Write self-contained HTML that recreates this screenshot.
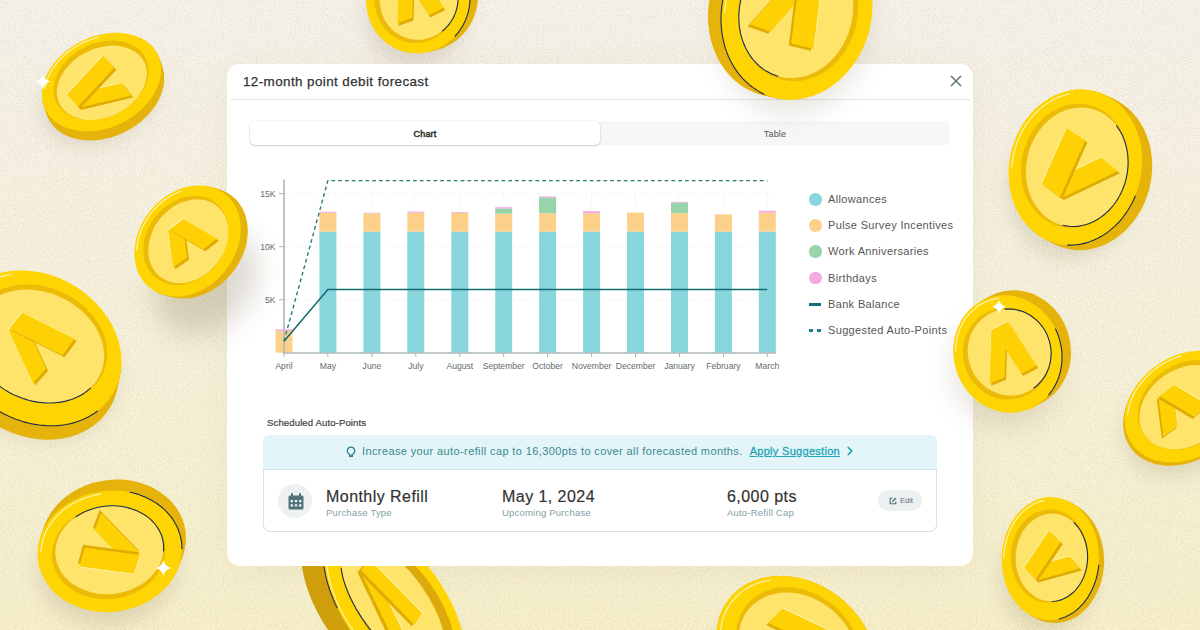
<!DOCTYPE html>
<html><head><meta charset="utf-8">
<style>
*{box-sizing:border-box;margin:0;padding:0}
html,body{width:1200px;height:630px;overflow:hidden}
body{position:relative;font-family:"Liberation Sans",sans-serif;background:#f4efe0}
.layer{position:absolute;left:0;top:0}
.modal{position:absolute;left:227px;top:64px;width:746px;height:502px;background:#fff;border-radius:13px}
.title{position:absolute;left:16px;top:10px;font-size:13.4px;color:#333;letter-spacing:0.42px;-webkit-text-stroke:0.25px #333}
.hdiv{position:absolute;left:3px;right:3px;top:35px;height:1px;background:#e2e4e5}
.close{position:absolute;left:723px;top:11px}
.tabs{position:absolute;left:23px;top:57px;width:700px;height:24px;background:#f6f7f7;border-radius:5px}
.tab1{position:absolute;left:0;top:0;width:350px;height:24px;background:#fff;border-radius:5px;box-shadow:0 1px 2px rgba(0,0,0,.18),0 0 0 0.5px rgba(0,0,0,.06);font-size:9px;color:#333;-webkit-text-stroke:0.5px #333;letter-spacing:0.2px;text-align:center;line-height:26px}
.tab2{position:absolute;left:350px;top:0;width:350px;height:24px;font-size:9px;color:#555;text-align:center;line-height:26px;letter-spacing:0.15px}
svg text.ax{font-family:"Liberation Sans",sans-serif;font-size:8.6px;fill:#646b6e}
.legend{position:absolute;left:581px;top:129px}
.li{position:absolute;left:0;width:200px;height:14px;font-size:11px;color:#555;letter-spacing:0.35px;white-space:nowrap}
.li span{position:absolute;left:20px;top:0}
.dot{position:absolute;left:1px;top:0;width:12.5px;height:12.5px;border-radius:50%}
.sched{position:absolute;left:40px;top:353px;font-size:9.6px;color:#444;letter-spacing:0.1px;-webkit-text-stroke:0.22px #444}
.banner{position:absolute;left:36px;top:371px;width:674px;height:34px;background:#e3f5f8;border-radius:6px 6px 0 0}
.btxt{position:absolute;left:99px;top:10px;font-size:11px;color:#3a8a90;white-space:nowrap;letter-spacing:0.385px}
.apply{color:#1ea5b6;text-decoration:underline;margin-left:3.5px;-webkit-text-stroke:0.3px #1ea5b6;letter-spacing:0.3px}
.card{position:absolute;left:36px;top:405px;width:674px;height:63px;border:1px solid #dde0e1;border-top:1px solid #cfe3e6;border-radius:0 0 7px 7px;background:#fff}
.ic{position:absolute;left:14px;top:14px;width:34px;height:34px;border-radius:50%;background:#eef1f2}
.big{position:absolute;font-size:16px;color:#333;white-space:nowrap;letter-spacing:0.45px;-webkit-text-stroke:0.2px #333}
.sub{position:absolute;font-size:9.5px;color:#82a1a5;white-space:nowrap;letter-spacing:0.2px}
.edit{position:absolute;left:614px;top:20px;width:44px;height:21px;border-radius:11px;background:#ebf0f1;font-size:7.5px;color:#5a7075}
</style></head><body>
<svg class="layer" width="1200" height="630" viewBox="0 0 1200 630"><defs>
<filter id="sh" x="-50%" y="-50%" width="200%" height="200%"><feGaussianBlur stdDeviation="10"/></filter>
<filter id="msh" x="-20%" y="-20%" width="140%" height="140%"><feGaussianBlur stdDeviation="18"/></filter>
<filter id="noiseD" x="0" y="0" width="100%" height="100%"><feTurbulence type="fractalNoise" baseFrequency="0.85" numOctaves="2" seed="3"/><feColorMatrix type="matrix" values="0 0 0 0 0.45  0 0 0 0 0.4  0 0 0 0 0.3  0.7 0 0 0 -0.33"/></filter>
<filter id="noiseL" x="0" y="0" width="100%" height="100%"><feTurbulence type="fractalNoise" baseFrequency="0.85" numOctaves="2" seed="3"/><feColorMatrix type="matrix" values="0 0 0 0 1  0 0 0 0 1  0 0 0 0 1  -0.7 0 0 0 0.33"/></filter>
<linearGradient id="bgg" x1="0" y1="0" x2="0" y2="1"><stop offset="0" stop-color="#f6f1e9"/><stop offset="0.45" stop-color="#f6f1dc"/><stop offset="1" stop-color="#f7f0ca"/></linearGradient>
</defs>
<rect width="1200" height="630" fill="url(#bgg)"/>
<rect width="1200" height="630" filter="url(#noiseD)"/><rect width="1200" height="630" filter="url(#noiseL)"/>
<rect x="232" y="74" width="737" height="496" rx="14" fill="#6b5a3a" opacity="0.07" filter="url(#msh)"/>
<ellipse cx="99.60" cy="98.10" rx="60.72" ry="44.13" transform="rotate(-26.3 99.60 98.10)" fill="#6b5a3a" opacity="0.16" filter="url(#sh)"/><ellipse cx="416.10" cy="15.00" rx="50.25" ry="52.87" transform="rotate(15 416.10 15.00)" fill="#6b5a3a" opacity="0.16" filter="url(#sh)"/><ellipse cx="34.10" cy="364.10" rx="86.62" ry="70.91" transform="rotate(30.8 34.10 364.10)" fill="#6b5a3a" opacity="0.16" filter="url(#sh)"/><ellipse cx="107.80" cy="567.30" rx="70.13" ry="58.78" transform="rotate(-7.1 107.80 567.30)" fill="#6b5a3a" opacity="0.16" filter="url(#sh)"/><ellipse cx="392.40" cy="621.50" rx="97.00" ry="48.98" transform="rotate(54.6 392.40 621.50)" fill="#6b5a3a" opacity="0.16" filter="url(#sh)"/><ellipse cx="794.20" cy="667.40" rx="82.55" ry="67.22" transform="rotate(37.1 794.20 667.40)" fill="#6b5a3a" opacity="0.16" filter="url(#sh)"/><ellipse cx="1073.40" cy="183.20" rx="64.02" ry="76.24" transform="rotate(13.9 1073.40 183.20)" fill="#6b5a3a" opacity="0.16" filter="url(#sh)"/><ellipse cx="1183.90" cy="422.50" rx="63.73" ry="48.98" transform="rotate(-34.5 1183.90 422.50)" fill="#6b5a3a" opacity="0.16" filter="url(#sh)"/><ellipse cx="1048.40" cy="574.60" rx="47.24" ry="59.66" transform="rotate(1.8 1048.40 574.60)" fill="#6b5a3a" opacity="0.16" filter="url(#sh)"/>
<ellipse cx="104.60" cy="91.10" rx="62.60" ry="45.50" transform="rotate(-26.3 104.60 91.10)" fill="#e5b30b" />
<ellipse cx="104.10" cy="89.60" rx="62.60" ry="45.50" transform="rotate(-26.3 104.10 89.60)" fill="#e5b30b" />
<ellipse cx="103.60" cy="88.10" rx="62.60" ry="45.50" transform="rotate(-26.3 103.60 88.10)" fill="#e5b30b" />
<ellipse cx="103.10" cy="86.60" rx="62.60" ry="45.50" transform="rotate(-26.3 103.10 86.60)" fill="#e5b30b" />
<ellipse cx="102.60" cy="85.10" rx="62.60" ry="45.50" transform="rotate(-26.3 102.60 85.10)" fill="#e5b30b" />
<ellipse cx="102.10" cy="83.60" rx="62.60" ry="45.50" transform="rotate(-26.3 102.10 83.60)" fill="#e5b30b" />
<ellipse cx="101.60" cy="82.10" rx="62.60" ry="45.50" transform="rotate(-26.3 101.60 82.10)" fill="#fed402" />
<ellipse cx="101.03" cy="80.39" rx="49.86" ry="36.95" transform="rotate(-26.3 101.03 80.39)" fill="#ebbb08" />
<ellipse cx="101.85" cy="82.86" rx="47.26" ry="34.35" transform="rotate(-26.3 101.85 82.86)" fill="#fee46a" />
<polygon transform="translate(1.6 1.6) matrix(39.840 7.040 -18.214 45.483 99.843 86.745)" points="0.831,0.075 0.493,-0.150 -0.617,0.292 -0.279,0.517" fill="#dfac06"/>
<polygon transform="translate(-1.20 -1.20) matrix(39.840 7.040 -18.214 45.483 99.843 86.745)" points="0.831,0.075 0.493,-0.150 -0.617,0.292 -0.279,0.517" fill="#fff6cf" opacity="0.75"/>
<polygon transform="translate(-0.48 -0.48) matrix(39.840 7.040 -18.214 45.483 99.843 86.745)" points="0.831,0.075 0.493,-0.150 -0.617,0.292 -0.279,0.517" fill="#fdd104"/>
<polygon transform="translate(1.6 1.6) matrix(39.840 7.040 -18.214 45.483 99.843 86.745)" points="0.176,-0.436 -0.200,-0.644 -0.681,0.279 -0.311,0.498" fill="#dfac06"/>
<polygon transform="translate(-1.20 -1.20) matrix(39.840 7.040 -18.214 45.483 99.843 86.745)" points="0.176,-0.436 -0.200,-0.644 -0.681,0.279 -0.311,0.498" fill="#fff6cf" opacity="0.75"/>
<polygon transform="translate(-0.48 -0.48) matrix(39.840 7.040 -18.214 45.483 99.843 86.745)" points="0.176,-0.436 -0.200,-0.644 -0.681,0.279 -0.311,0.498" fill="#fdd104"/>
<polyline points="45.0,88.6 45.3,86.9 45.6,85.3 46.0,83.7 46.5,82.0 47.0,80.4 47.6,78.7 48.3,77.1 49.0,75.5 49.8,73.8 50.7,72.2 51.6,70.6 52.6,69.0 53.6,67.5 54.7,65.9 55.9,64.4 57.1,62.9 58.3,61.4 59.7,59.9 61.0,58.5 62.4,57.1 63.9,55.7 65.4,54.3 67.0,53.0 68.6,51.7 70.2,50.5 71.9,49.3 73.6,48.1 75.4,47.0 77.1,46.0 79.0,44.9 80.8,43.9 82.7,43.0 84.5,42.1 86.4,41.3 88.4,40.5 90.3,39.7 92.3,39.0 94.2,38.4 96.2,37.8 98.2,37.3" fill="none" stroke="#fff7d0" stroke-width="1.1" stroke-linecap="round" opacity="0.9"/>
<path d="M43 74.0Q44.35 80.15 50.5 81.5Q44.35 82.85 43 89.0Q41.65 82.85 35.5 81.5Q41.65 80.15 43 74.0Z" fill="#fff"/><ellipse cx="426.10" cy="-3.00" rx="51.80" ry="54.50" transform="rotate(15 426.10 -3.00)" fill="#e5b30b" />
<ellipse cx="424.50" cy="-2.60" rx="51.80" ry="54.50" transform="rotate(15 424.50 -2.60)" fill="#e5b30b" />
<ellipse cx="422.90" cy="-2.20" rx="51.80" ry="54.50" transform="rotate(15 422.90 -2.20)" fill="#e5b30b" />
<ellipse cx="421.30" cy="-1.80" rx="51.80" ry="54.50" transform="rotate(15 421.30 -1.80)" fill="#e5b30b" />
<ellipse cx="419.70" cy="-1.40" rx="51.80" ry="54.50" transform="rotate(15 419.70 -1.40)" fill="#e5b30b" />
<ellipse cx="418.10" cy="-1.00" rx="51.80" ry="54.50" transform="rotate(15 418.10 -1.00)" fill="#fed402" />
<ellipse cx="416.35" cy="-0.56" rx="41.71" ry="43.75" transform="rotate(15 416.35 -0.56)" fill="#ebbb08" />
<ellipse cx="418.88" cy="-1.19" rx="39.11" ry="41.15" transform="rotate(15 418.88 -1.19)" fill="#fee46a" />
<polygon transform="translate(1 2) matrix(-17.403 35.842 -39.941 -29.368 415.023 -3.628)" points="0.831,0.075 0.493,-0.150 -0.617,0.292 -0.279,0.517" fill="#dfac06"/>
<polygon transform="translate(-0.75 -1.50) matrix(-17.403 35.842 -39.941 -29.368 415.023 -3.628)" points="0.831,0.075 0.493,-0.150 -0.617,0.292 -0.279,0.517" fill="#fff6cf" opacity="0.75"/>
<polygon transform="translate(-0.30 -0.60) matrix(-17.403 35.842 -39.941 -29.368 415.023 -3.628)" points="0.831,0.075 0.493,-0.150 -0.617,0.292 -0.279,0.517" fill="#fdd104"/>
<polygon transform="translate(1 2) matrix(-17.403 35.842 -39.941 -29.368 415.023 -3.628)" points="0.176,-0.436 -0.200,-0.644 -0.681,0.279 -0.311,0.498" fill="#dfac06"/>
<polygon transform="translate(-0.75 -1.50) matrix(-17.403 35.842 -39.941 -29.368 415.023 -3.628)" points="0.176,-0.436 -0.200,-0.644 -0.681,0.279 -0.311,0.498" fill="#fff6cf" opacity="0.75"/>
<polygon transform="translate(-0.30 -0.60) matrix(-17.403 35.842 -39.941 -29.368 415.023 -3.628)" points="0.176,-0.436 -0.200,-0.644 -0.681,0.279 -0.311,0.498" fill="#fdd104"/>
<polyline points="368.5,-1.8 368.6,-3.6 368.8,-5.4 369.0,-7.2 369.3,-9.0 369.6,-10.8 370.0,-12.6 370.5,-14.3 371.0,-16.1 371.6,-17.8 372.2,-19.5 372.9,-21.2 373.6,-22.8 374.4,-24.5 375.3,-26.1 376.2,-27.6 377.1,-29.2 378.1,-30.7 379.2,-32.1 380.3,-33.6 381.4,-35.0 382.6,-36.3 383.8,-37.6 385.1,-38.9 386.4,-40.1 387.8,-41.3 389.2,-42.4 390.6,-43.4 392.1,-44.5 393.5,-45.4 395.1,-46.3 396.6,-47.2 398.2,-48.0 399.8,-48.7 401.4,-49.4 403.1,-50.0 404.7,-50.6 406.4,-51.1 408.1,-51.5 409.8,-51.9 411.5,-52.2" fill="none" stroke="#fff7d0" stroke-width="1.1" stroke-linecap="round" opacity="0.9"/>
<polyline points="458.1,0.0 458.0,0.9 457.9,1.8 457.8,2.7 457.7,3.6 457.6,4.5 457.5,5.3 457.3,6.2 457.1,7.1 456.9,8.0 456.7,8.8 456.4,9.7 456.2,10.5 455.9,11.4 455.6,12.2 455.3,13.1 455.0,13.9 454.6,14.7 454.3,15.6 453.9,16.4 453.5,17.2 453.1,18.0 452.7,18.7 452.2,19.5 451.8,20.3 451.3,21.0 450.8,21.8 450.3,22.5 449.8,23.2 449.3,23.9 448.7,24.6 448.2,25.3 447.6,26.0 447.0,26.7 446.4,27.3 445.8,27.9 445.2,28.6 444.5,29.2 443.9,29.8 443.2,30.3 442.5,30.9" fill="none" stroke="#1f2d4a" stroke-width="1.1" stroke-linecap="round"/>
<polyline points="470.0,0.0 470.0,1.0 469.9,2.0 469.8,3.0 469.7,4.0 469.6,5.0 469.5,6.0 469.3,7.0 469.1,8.0 468.9,9.0 468.7,9.9 468.5,10.9 468.3,11.9 468.0,12.8 467.7,13.8 467.4,14.8 467.1,15.7 466.8,16.7 466.5,17.6 466.1,18.5 465.7,19.5 465.4,20.4 464.9,21.3 464.5,22.2 464.1,23.1 463.6,24.0 463.2,24.9 462.7,25.8 462.2,26.6 461.7,27.5 461.1,28.3 460.6,29.1 460.0,30.0 459.5,30.8 458.9,31.6 458.3,32.4 457.7,33.2 457.0,33.9 456.4,34.7 455.8,35.4 455.1,36.2" fill="none" stroke="#1f2d4a" stroke-width="1.1" stroke-linecap="round"/><ellipse cx="33.10" cy="362.10" rx="89.30" ry="73.10" transform="rotate(30.8 33.10 362.10)" fill="#e5b30b" />
<ellipse cx="33.43" cy="360.54" rx="89.30" ry="73.10" transform="rotate(30.8 33.43 360.54)" fill="#e5b30b" />
<ellipse cx="33.77" cy="358.99" rx="89.30" ry="73.10" transform="rotate(30.8 33.77 358.99)" fill="#e5b30b" />
<ellipse cx="34.10" cy="357.43" rx="89.30" ry="73.10" transform="rotate(30.8 34.10 357.43)" fill="#e5b30b" />
<ellipse cx="34.43" cy="355.88" rx="89.30" ry="73.10" transform="rotate(30.8 34.43 355.88)" fill="#e5b30b" />
<ellipse cx="34.77" cy="354.32" rx="89.30" ry="73.10" transform="rotate(30.8 34.77 354.32)" fill="#e5b30b" />
<ellipse cx="35.10" cy="352.77" rx="89.30" ry="73.10" transform="rotate(30.8 35.10 352.77)" fill="#e5b30b" />
<ellipse cx="35.43" cy="351.21" rx="89.30" ry="73.10" transform="rotate(30.8 35.43 351.21)" fill="#e5b30b" />
<ellipse cx="35.77" cy="349.66" rx="89.30" ry="73.10" transform="rotate(30.8 35.77 349.66)" fill="#e5b30b" />
<ellipse cx="36.10" cy="348.10" rx="89.30" ry="73.10" transform="rotate(30.8 36.10 348.10)" fill="#fed402" />
<ellipse cx="38.54" cy="343.76" rx="70.90" ry="56.70" transform="rotate(24 38.54 343.76)" fill="#ebbb08" />
<ellipse cx="38.00" cy="346.30" rx="68.30" ry="54.10" transform="rotate(24 38.00 346.30)" fill="#fee46a" />
<polygon transform="translate(1.6 1.6) matrix(-0.532 46.187 -56.998 -4.438 38.215 345.658)" points="0.831,0.075 0.493,-0.150 -0.617,0.292 -0.279,0.517" fill="#dfac06"/>
<polygon transform="translate(-1.20 -1.20) matrix(-0.532 46.187 -56.998 -4.438 38.215 345.658)" points="0.831,0.075 0.493,-0.150 -0.617,0.292 -0.279,0.517" fill="#fff6cf" opacity="0.75"/>
<polygon transform="translate(-0.48 -0.48) matrix(-0.532 46.187 -56.998 -4.438 38.215 345.658)" points="0.831,0.075 0.493,-0.150 -0.617,0.292 -0.279,0.517" fill="#fdd104"/>
<polygon transform="translate(1.6 1.6) matrix(-0.532 46.187 -56.998 -4.438 38.215 345.658)" points="0.176,-0.436 -0.200,-0.644 -0.681,0.279 -0.311,0.498" fill="#dfac06"/>
<polygon transform="translate(-1.20 -1.20) matrix(-0.532 46.187 -56.998 -4.438 38.215 345.658)" points="0.176,-0.436 -0.200,-0.644 -0.681,0.279 -0.311,0.498" fill="#fff6cf" opacity="0.75"/>
<polygon transform="translate(-0.48 -0.48) matrix(-0.532 46.187 -56.998 -4.438 38.215 345.658)" points="0.176,-0.436 -0.200,-0.644 -0.681,0.279 -0.311,0.498" fill="#fdd104"/>
<polyline points="-44.6,345.4 -45.0,342.8 -45.2,340.2 -45.4,337.6 -45.4,335.1 -45.4,332.5 -45.2,330.0 -45.0,327.5 -44.6,325.0 -44.2,322.6 -43.6,320.2 -43.0,317.8 -42.2,315.4 -41.4,313.1 -40.5,310.9 -39.4,308.7 -38.3,306.5 -37.1,304.4 -35.8,302.3 -34.4,300.3 -33.0,298.3 -31.4,296.5 -29.8,294.6 -28.1,292.9 -26.3,291.2 -24.4,289.5 -22.5,288.0 -20.4,286.5 -18.4,285.1 -16.2,283.8 -14.0,282.5 -11.7,281.4 -9.4,280.3 -7.0,279.3 -4.6,278.3 -2.1,277.5 0.5,276.7 3.0,276.1 5.7,275.5 8.3,275.0 11.0,274.6" fill="none" stroke="#fff7d0" stroke-width="1.1" stroke-linecap="round" opacity="0.9"/>
<polyline points="-4.1,383.2 -2.0,384.9 0.1,386.5 2.4,388.1 4.6,389.6 6.9,391.0 9.3,392.4 11.7,393.7 14.2,394.9 16.7,396.0 19.2,397.1 21.8,398.0 24.3,398.9 26.9,399.7 29.6,400.5 32.2,401.1 34.9,401.6 37.5,402.1 40.2,402.4 42.8,402.7 45.5,402.9 48.1,403.0 50.7,403.0 53.3,402.9 55.9,402.7 58.4,402.4 60.9,402.1 63.4,401.6 65.8,401.1 68.2,400.4 70.5,399.7 72.8,398.9 75.0,398.0 77.2,397.1 79.3,396.0 81.4,394.9 83.3,393.7 85.2,392.4 87.0,391.0 88.8,389.6 90.4,388.1" fill="none" stroke="#1f2d4a" stroke-width="1.1" stroke-linecap="round"/>
<polyline points="-4.8,408.7 -2.4,410.3 0.1,411.7 2.7,413.2 5.2,414.5 7.8,415.8 10.4,417.0 13.1,418.1 15.8,419.2 18.5,420.1 21.2,421.0 23.9,421.9 26.7,422.6 29.4,423.3 32.2,423.9 34.9,424.4 37.7,424.8 40.5,425.2 43.2,425.4 46.0,425.6 48.7,425.7 51.5,425.8 54.2,425.7 56.9,425.6 59.5,425.4 62.2,425.1 64.8,424.7 67.4,424.2 70.0,423.7 72.5,423.1 75.0,422.4 77.4,421.6 79.8,420.7 82.2,419.8 84.5,418.8 86.7,417.7 88.9,416.6 91.1,415.3 93.2,414.0 95.2,412.7 97.2,411.2" fill="none" stroke="#1f2d4a" stroke-width="1.1" stroke-linecap="round"/><ellipse cx="113.80" cy="540.30" rx="72.30" ry="60.60" transform="rotate(-7.1 113.80 540.30)" fill="#e5b30b" />
<ellipse cx="113.23" cy="541.87" rx="72.30" ry="60.60" transform="rotate(-7.1 113.23 541.87)" fill="#e5b30b" />
<ellipse cx="112.66" cy="543.44" rx="72.30" ry="60.60" transform="rotate(-7.1 112.66 543.44)" fill="#e5b30b" />
<ellipse cx="112.09" cy="545.01" rx="72.30" ry="60.60" transform="rotate(-7.1 112.09 545.01)" fill="#e5b30b" />
<ellipse cx="111.51" cy="546.59" rx="72.30" ry="60.60" transform="rotate(-7.1 111.51 546.59)" fill="#e5b30b" />
<ellipse cx="110.94" cy="548.16" rx="72.30" ry="60.60" transform="rotate(-7.1 110.94 548.16)" fill="#e5b30b" />
<ellipse cx="110.37" cy="549.73" rx="72.30" ry="60.60" transform="rotate(-7.1 110.37 549.73)" fill="#e5b30b" />
<ellipse cx="109.80" cy="551.30" rx="72.30" ry="60.60" transform="rotate(-7.1 109.80 551.30)" fill="#fed402" />
<ellipse cx="108.61" cy="552.44" rx="56.90" ry="46.60" transform="rotate(-7.1 108.61 552.44)" fill="#ebbb08" />
<ellipse cx="109.50" cy="550.00" rx="54.30" ry="44.00" transform="rotate(-7.1 109.50 550.00)" fill="#fee46a" />
<polygon transform="translate(-1.2 -2.2) matrix(-14.751 -42.149 51.428 -14.112 109.294 548.274)" points="0.831,0.075 0.493,-0.150 -0.617,0.292 -0.279,0.517" fill="#dfac06"/>
<polygon transform="translate(0.90 1.65) matrix(-14.751 -42.149 51.428 -14.112 109.294 548.274)" points="0.831,0.075 0.493,-0.150 -0.617,0.292 -0.279,0.517" fill="#fff6cf" opacity="0.75"/>
<polygon transform="translate(0.36 0.66) matrix(-14.751 -42.149 51.428 -14.112 109.294 548.274)" points="0.831,0.075 0.493,-0.150 -0.617,0.292 -0.279,0.517" fill="#fdd104"/>
<polygon transform="translate(-1.2 -2.2) matrix(-14.751 -42.149 51.428 -14.112 109.294 548.274)" points="0.176,-0.436 -0.200,-0.644 -0.681,0.279 -0.311,0.498" fill="#dfac06"/>
<polygon transform="translate(0.90 1.65) matrix(-14.751 -42.149 51.428 -14.112 109.294 548.274)" points="0.176,-0.436 -0.200,-0.644 -0.681,0.279 -0.311,0.498" fill="#fff6cf" opacity="0.75"/>
<polygon transform="translate(0.36 0.66) matrix(-14.751 -42.149 51.428 -14.112 109.294 548.274)" points="0.176,-0.436 -0.200,-0.644 -0.681,0.279 -0.311,0.498" fill="#fdd104"/>
<polyline points="41.0,551.2 41.1,549.2 41.4,547.1 41.7,545.1 42.1,543.1 42.6,541.1 43.1,539.1 43.8,537.1 44.5,535.2 45.3,533.3 46.2,531.3 47.2,529.4 48.2,527.6 49.3,525.8 50.5,523.9 51.8,522.2 53.1,520.4 54.5,518.7 56.0,517.1 57.5,515.5 59.1,513.9 60.7,512.4 62.5,510.9 64.2,509.5 66.1,508.1 68.0,506.8 69.9,505.5 71.9,504.3 73.9,503.1 76.0,502.0 78.1,501.0 80.3,500.0 82.4,499.1 84.7,498.2 86.9,497.4 89.2,496.7 91.5,496.0 93.8,495.5 96.2,494.9 98.5,494.5 100.9,494.1" fill="none" stroke="#fff7d0" stroke-width="1.1" stroke-linecap="round" opacity="0.9"/>
<polyline points="75.8,516.9 78.3,515.2 81.0,513.7 83.7,512.3 86.5,511.1 89.3,509.9 92.3,508.9 95.3,508.0 98.3,507.3 101.4,506.7 104.5,506.3 107.7,506.0 110.8,505.8 113.9,505.8 117.0,506.0 120.1,506.3 123.2,506.7 126.2,507.3 129.2,508.1 132.0,508.9 134.9,509.9 137.6,511.1 140.2,512.4 142.7,513.8 145.2,515.3 147.5,516.9 149.6,518.7 151.7,520.5 153.6,522.5 155.3,524.5 156.9,526.7 158.3,528.9 159.6,531.2 160.7,533.5 161.7,535.9 162.4,538.4 163.0,540.8 163.4,543.4 163.6,545.9 163.6,548.4 163.5,551.0" fill="none" stroke="#1f2d4a" stroke-width="1.1" stroke-linecap="round"/>
<polyline points="130.1,492.3 132.3,492.8 134.5,493.3 136.7,493.9 138.8,494.6 140.9,495.4 143.0,496.2 145.0,497.0 147.0,497.9 149.0,498.9 150.9,499.9 152.8,501.0 154.6,502.1 156.4,503.2 158.2,504.5 159.9,505.7 161.5,507.0 163.1,508.4 164.6,509.8 166.1,511.3 167.5,512.7 168.9,514.3 170.2,515.8 171.4,517.4 172.6,519.1 173.7,520.8 174.7,522.5 175.7,524.2 176.6,526.0 177.5,527.7 178.2,529.5 178.9,531.4 179.5,533.2 180.1,535.1 180.6,537.0 181.0,538.9 181.3,540.8 181.6,542.7 181.8,544.7 181.9,546.6 181.9,548.6" fill="none" stroke="#1f2d4a" stroke-width="1.1" stroke-linecap="round"/>
<path d="M163.4 559.9Q164.84 566.4599999999999 171.4 567.9Q164.84 569.34 163.4 575.9Q161.96 569.34 155.4 567.9Q161.96 566.4599999999999 163.4 559.9Z" fill="#fff"/><ellipse cx="372.40" cy="605.50" rx="100.00" ry="50.50" transform="rotate(54.6 372.40 605.50)" fill="#cf9e0c" />
<ellipse cx="373.97" cy="605.50" rx="100.00" ry="50.50" transform="rotate(54.6 373.97 605.50)" fill="#cf9e0c" />
<ellipse cx="375.54" cy="605.50" rx="100.00" ry="50.50" transform="rotate(54.6 375.54 605.50)" fill="#cf9e0c" />
<ellipse cx="377.11" cy="605.50" rx="100.00" ry="50.50" transform="rotate(54.6 377.11 605.50)" fill="#cf9e0c" />
<ellipse cx="378.69" cy="605.50" rx="100.00" ry="50.50" transform="rotate(54.6 378.69 605.50)" fill="#cf9e0c" />
<ellipse cx="380.26" cy="605.50" rx="100.00" ry="50.50" transform="rotate(54.6 380.26 605.50)" fill="#cf9e0c" />
<ellipse cx="381.83" cy="605.50" rx="100.00" ry="50.50" transform="rotate(54.6 381.83 605.50)" fill="#cf9e0c" />
<ellipse cx="383.40" cy="605.50" rx="100.00" ry="50.50" transform="rotate(54.6 383.40 605.50)" fill="#cf9e0c" />
<ellipse cx="384.97" cy="605.50" rx="100.00" ry="50.50" transform="rotate(54.6 384.97 605.50)" fill="#cf9e0c" />
<ellipse cx="386.54" cy="605.50" rx="100.00" ry="50.50" transform="rotate(54.6 386.54 605.50)" fill="#cf9e0c" />
<ellipse cx="388.11" cy="605.50" rx="100.00" ry="50.50" transform="rotate(54.6 388.11 605.50)" fill="#cf9e0c" />
<ellipse cx="389.69" cy="605.50" rx="100.00" ry="50.50" transform="rotate(54.6 389.69 605.50)" fill="#cf9e0c" />
<ellipse cx="391.26" cy="605.50" rx="100.00" ry="50.50" transform="rotate(54.6 391.26 605.50)" fill="#cf9e0c" />
<ellipse cx="392.83" cy="605.50" rx="100.00" ry="50.50" transform="rotate(54.6 392.83 605.50)" fill="#cf9e0c" />
<ellipse cx="394.40" cy="605.50" rx="100.00" ry="50.50" transform="rotate(54.6 394.40 605.50)" fill="#fed402" />
<ellipse cx="398.00" cy="605.00" rx="81.00" ry="38.50" transform="rotate(54 398.00 605.00)" fill="#dcaa0a" />
<ellipse cx="393.00" cy="604.00" rx="76.00" ry="33.50" transform="rotate(54 393.00 604.00)" fill="#fee46a" />
<polygon transform="translate(-2.2 1.2) matrix(9.121 49.334 -52.633 -32.938 389.488 602.205)" points="0.831,0.075 0.493,-0.150 -0.617,0.292 -0.279,0.517" fill="#dfac06"/>
<polygon transform="translate(1.65 -0.90) matrix(9.121 49.334 -52.633 -32.938 389.488 602.205)" points="0.831,0.075 0.493,-0.150 -0.617,0.292 -0.279,0.517" fill="#fff6cf" opacity="0.75"/>
<polygon transform="translate(0.66 -0.36) matrix(9.121 49.334 -52.633 -32.938 389.488 602.205)" points="0.831,0.075 0.493,-0.150 -0.617,0.292 -0.279,0.517" fill="#fdd104"/>
<polygon transform="translate(-2.2 1.2) matrix(9.121 49.334 -52.633 -32.938 389.488 602.205)" points="0.176,-0.436 -0.200,-0.644 -0.681,0.279 -0.311,0.498" fill="#dfac06"/>
<polygon transform="translate(1.65 -0.90) matrix(9.121 49.334 -52.633 -32.938 389.488 602.205)" points="0.176,-0.436 -0.200,-0.644 -0.681,0.279 -0.311,0.498" fill="#fff6cf" opacity="0.75"/>
<polygon transform="translate(0.66 -0.36) matrix(9.121 49.334 -52.633 -32.938 389.488 602.205)" points="0.176,-0.436 -0.200,-0.644 -0.681,0.279 -0.311,0.498" fill="#fdd104"/>
<polyline points="354.7,632.8 352.8,630.1 350.9,627.3 349.1,624.5 347.4,621.7 345.7,618.9 344.1,616.0 342.5,613.1 341.0,610.3 339.6,607.4 338.2,604.5 336.9,601.6 335.7,598.7 334.6,595.8 333.5,593.0 332.5,590.1 331.5,587.3 330.7,584.5 329.9,581.7 329.2,579.0 328.6,576.3 328.1,573.6 327.6,570.9 327.2,568.3 326.9,565.8 326.7,563.3 326.6,560.8 326.5,558.4 326.6,556.1 326.7,553.8 326.9,551.6 327.2,549.4 327.5,547.3 328.0,545.3 328.5,543.4 329.1,541.5 329.8,539.7 330.6,538.0 331.4,536.4 332.3,534.8 333.3,533.4" fill="none" stroke="#fff7d0" stroke-width="1.1" stroke-linecap="round" opacity="0.9"/>
<polyline points="341.2,568.1 341.3,569.5 341.6,570.8 341.8,572.2 342.1,573.7 342.4,575.1 342.7,576.6 343.1,578.0 343.5,579.5 343.9,581.0 344.4,582.6 344.9,584.1 345.4,585.6 346.0,587.2 346.6,588.8 347.2,590.3 347.9,591.9 348.5,593.5 349.2,595.1 350.0,596.7 350.7,598.3 351.5,600.0 352.3,601.6 353.1,603.2 354.0,604.8 354.9,606.4 355.8,608.1 356.7,609.7 357.7,611.3 358.7,612.9 359.7,614.5 360.7,616.1 361.7,617.7 362.8,619.3 363.9,620.8 365.0,622.4 366.1,623.9 367.2,625.5 368.4,627.0 369.5,628.5 370.7,630.0" fill="none" stroke="#1f2d4a" stroke-width="1.1" stroke-linecap="round"/>
<polyline points="324.1,567.1 324.3,568.0 324.4,569.0 324.6,569.9 324.7,570.9 324.9,571.9 325.1,572.8 325.3,573.8 325.5,574.8 325.7,575.8 325.9,576.8 326.1,577.7 326.4,578.7 326.6,579.7 326.9,580.7 327.2,581.7 327.5,582.8 327.8,583.8 328.1,584.8 328.4,585.8 328.7,586.8 329.0,587.8 329.4,588.9 329.7,589.9 330.1,590.9 330.5,592.0 330.8,593.0 331.2,594.0 331.6,595.1 332.0,596.1 332.5,597.2 332.9,598.2 333.3,599.3 333.8,600.3 334.2,601.3 334.7,602.4 335.1,603.4 335.6,604.5 336.1,605.5 336.6,606.6 337.1,607.6" fill="none" stroke="#1f2d4a" stroke-width="1.1" stroke-linecap="round"/><ellipse cx="796.20" cy="651.40" rx="85.10" ry="69.30" transform="rotate(37.1 796.20 651.40)" fill="#e5b30b" />
<ellipse cx="796.20" cy="651.40" rx="85.10" ry="69.30" transform="rotate(37.1 796.20 651.40)" fill="#e5b30b" />
<ellipse cx="796.20" cy="651.40" rx="85.10" ry="69.30" transform="rotate(37.1 796.20 651.40)" fill="#fed402" />
<ellipse cx="798.10" cy="647.00" rx="66.40" ry="54.80" transform="rotate(38.9 798.10 647.00)" fill="#ebbb08" />
<ellipse cx="798.10" cy="649.60" rx="63.80" ry="52.20" transform="rotate(38.9 798.10 649.60)" fill="#fee46a" />
<polygon transform="translate(-1.6 1.6) matrix(-20.751 -33.342 95.059 -14.048 792.302 637.795)" points="0.831,0.075 0.493,-0.150 -0.617,0.292 -0.279,0.517" fill="#dfac06"/>
<polygon transform="translate(1.20 -1.20) matrix(-20.751 -33.342 95.059 -14.048 792.302 637.795)" points="0.831,0.075 0.493,-0.150 -0.617,0.292 -0.279,0.517" fill="#fff6cf" opacity="0.75"/>
<polygon transform="translate(0.48 -0.48) matrix(-20.751 -33.342 95.059 -14.048 792.302 637.795)" points="0.831,0.075 0.493,-0.150 -0.617,0.292 -0.279,0.517" fill="#fdd104"/>
<polygon transform="translate(-1.6 1.6) matrix(-20.751 -33.342 95.059 -14.048 792.302 637.795)" points="0.176,-0.436 -0.200,-0.644 -0.681,0.279 -0.311,0.498" fill="#dfac06"/>
<polygon transform="translate(1.20 -1.20) matrix(-20.751 -33.342 95.059 -14.048 792.302 637.795)" points="0.176,-0.436 -0.200,-0.644 -0.681,0.279 -0.311,0.498" fill="#fff6cf" opacity="0.75"/>
<polygon transform="translate(0.48 -0.48) matrix(-20.751 -33.342 95.059 -14.048 792.302 637.795)" points="0.176,-0.436 -0.200,-0.644 -0.681,0.279 -0.311,0.498" fill="#fdd104"/>
<polyline points="721.3,650.1 720.8,647.5 720.5,645.0 720.3,642.5 720.1,640.0 720.1,637.6 720.1,635.1 720.2,632.7 720.5,630.2 720.8,627.9 721.2,625.5 721.7,623.2 722.3,620.9 723.0,618.6 723.7,616.4 724.6,614.2 725.5,612.1 726.6,610.0 727.7,608.0 728.9,606.0 730.2,604.1 731.5,602.2 733.0,600.4 734.5,598.7 736.1,597.0 737.7,595.4 739.5,593.8 741.3,592.3 743.1,590.9 745.1,589.6 747.1,588.3 749.1,587.2 751.3,586.1 753.4,585.1 755.7,584.1 757.9,583.3 760.2,582.5 762.6,581.8 765.0,581.2 767.5,580.7 769.9,580.2" fill="none" stroke="#fff7d0" stroke-width="1.1" stroke-linecap="round" opacity="0.9"/><ellipse cx="1085.40" cy="172.20" rx="66.00" ry="78.60" transform="rotate(13.9 1085.40 172.20)" fill="#e5b30b" />
<ellipse cx="1083.97" cy="171.49" rx="66.00" ry="78.60" transform="rotate(13.9 1083.97 171.49)" fill="#e5b30b" />
<ellipse cx="1082.54" cy="170.77" rx="66.00" ry="78.60" transform="rotate(13.9 1082.54 170.77)" fill="#e5b30b" />
<ellipse cx="1081.11" cy="170.06" rx="66.00" ry="78.60" transform="rotate(13.9 1081.11 170.06)" fill="#e5b30b" />
<ellipse cx="1079.69" cy="169.34" rx="66.00" ry="78.60" transform="rotate(13.9 1079.69 169.34)" fill="#e5b30b" />
<ellipse cx="1078.26" cy="168.63" rx="66.00" ry="78.60" transform="rotate(13.9 1078.26 168.63)" fill="#e5b30b" />
<ellipse cx="1076.83" cy="167.91" rx="66.00" ry="78.60" transform="rotate(13.9 1076.83 167.91)" fill="#e5b30b" />
<ellipse cx="1075.40" cy="167.20" rx="66.00" ry="78.60" transform="rotate(13.9 1075.40 167.20)" fill="#fed402" />
<ellipse cx="1074.67" cy="165.84" rx="53.10" ry="62.60" transform="rotate(13.9 1074.67 165.84)" fill="#ebbb08" />
<ellipse cx="1077.00" cy="167.00" rx="50.50" ry="60.00" transform="rotate(13.9 1077.00 167.00)" fill="#fee46a" />
<polygon transform="translate(1.6 1.6) matrix(50.350 -0.235 -0.669 60.414 1076.643 167.221)" points="0.831,0.075 0.493,-0.150 -0.617,0.292 -0.279,0.517" fill="#dfac06"/>
<polygon transform="translate(-1.20 -1.20) matrix(50.350 -0.235 -0.669 60.414 1076.643 167.221)" points="0.831,0.075 0.493,-0.150 -0.617,0.292 -0.279,0.517" fill="#fff6cf" opacity="0.75"/>
<polygon transform="translate(-0.48 -0.48) matrix(50.350 -0.235 -0.669 60.414 1076.643 167.221)" points="0.831,0.075 0.493,-0.150 -0.617,0.292 -0.279,0.517" fill="#fdd104"/>
<polygon transform="translate(1.6 1.6) matrix(50.350 -0.235 -0.669 60.414 1076.643 167.221)" points="0.176,-0.436 -0.200,-0.644 -0.681,0.279 -0.311,0.498" fill="#dfac06"/>
<polygon transform="translate(-1.20 -1.20) matrix(50.350 -0.235 -0.669 60.414 1076.643 167.221)" points="0.176,-0.436 -0.200,-0.644 -0.681,0.279 -0.311,0.498" fill="#fff6cf" opacity="0.75"/>
<polygon transform="translate(-0.48 -0.48) matrix(50.350 -0.235 -0.669 60.414 1076.643 167.221)" points="0.176,-0.436 -0.200,-0.644 -0.681,0.279 -0.311,0.498" fill="#fdd104"/>
<polyline points="1011.8,167.4 1012.0,164.8 1012.3,162.2 1012.7,159.6 1013.1,157.1 1013.6,154.5 1014.2,151.9 1014.9,149.4 1015.7,146.9 1016.5,144.4 1017.4,142.0 1018.3,139.5 1019.4,137.1 1020.4,134.8 1021.6,132.5 1022.8,130.2 1024.1,127.9 1025.5,125.8 1026.9,123.6 1028.4,121.6 1029.9,119.5 1031.5,117.6 1033.1,115.7 1034.8,113.8 1036.6,112.0 1038.4,110.3 1040.2,108.7 1042.1,107.1 1044.0,105.6 1046.0,104.2 1048.0,102.9 1050.0,101.6 1052.0,100.4 1054.1,99.3 1056.2,98.3 1058.4,97.3 1060.5,96.5 1062.7,95.7 1064.9,95.0 1067.1,94.5 1069.3,93.9" fill="none" stroke="#fff7d0" stroke-width="1.1" stroke-linecap="round" opacity="0.9"/>
<polyline points="1116.6,125.8 1118.5,128.6 1120.3,131.5 1122.0,134.6 1123.4,137.9 1124.7,141.2 1125.7,144.6 1126.6,148.2 1127.3,151.8 1127.8,155.5 1128.0,159.2 1128.1,162.9 1128.0,166.7 1127.6,170.5 1127.1,174.2 1126.3,178.0 1125.4,181.6 1124.2,185.3 1122.9,188.8 1121.4,192.3 1119.7,195.6 1117.8,198.9 1115.8,202.0 1113.6,205.0 1111.2,207.8 1108.8,210.5 1106.2,212.9 1103.5,215.2 1100.6,217.4 1097.7,219.3 1094.7,221.0 1091.7,222.4 1088.5,223.7 1085.4,224.7 1082.1,225.5 1078.9,226.1 1075.7,226.4 1072.4,226.5 1069.2,226.3 1066.0,225.9 1062.9,225.3" fill="none" stroke="#1f2d4a" stroke-width="1.1" stroke-linecap="round"/>
<polyline points="1135.3,196.0 1134.3,198.2 1133.3,200.4 1132.3,202.5 1131.2,204.6 1130.0,206.7 1128.8,208.7 1127.6,210.7 1126.3,212.7 1124.9,214.6 1123.5,216.5 1122.1,218.3 1120.6,220.1 1119.1,221.8 1117.5,223.5 1115.9,225.1 1114.2,226.7 1112.5,228.2 1110.8,229.7 1109.1,231.1 1107.3,232.4 1105.5,233.7 1103.6,234.9 1101.8,236.0 1099.9,237.1 1098.0,238.2 1096.0,239.1 1094.1,240.0 1092.1,240.8 1090.1,241.6 1088.1,242.2 1086.1,242.9 1084.1,243.4 1082.0,243.9 1080.0,244.2 1077.9,244.6 1075.9,244.8 1073.8,245.0 1071.8,245.1 1069.8,245.1 1067.7,245.1" fill="none" stroke="#1f2d4a" stroke-width="1.1" stroke-linecap="round"/><ellipse cx="1184.40" cy="410.00" rx="65.70" ry="50.50" transform="rotate(-34.5 1184.40 410.00)" fill="#e5b30b" />
<ellipse cx="1185.15" cy="408.25" rx="65.70" ry="50.50" transform="rotate(-34.5 1185.15 408.25)" fill="#e5b30b" />
<ellipse cx="1185.90" cy="406.50" rx="65.70" ry="50.50" transform="rotate(-34.5 1185.90 406.50)" fill="#fed402" />
<ellipse cx="1186.61" cy="404.85" rx="52.20" ry="40.73" transform="rotate(-34.5 1186.61 404.85)" fill="#ebbb08" />
<ellipse cx="1185.58" cy="407.24" rx="49.60" ry="38.13" transform="rotate(-34.5 1185.58 407.24)" fill="#fee46a" />
<polygon transform="translate(-1.2 1.8) matrix(-12.777 33.513 -43.769 -4.558 1177.017 409.343)" points="0.831,0.075 0.493,-0.150 -0.617,0.292 -0.279,0.517" fill="#dfac06"/>
<polygon transform="translate(0.90 -1.35) matrix(-12.777 33.513 -43.769 -4.558 1177.017 409.343)" points="0.831,0.075 0.493,-0.150 -0.617,0.292 -0.279,0.517" fill="#fff6cf" opacity="0.75"/>
<polygon transform="translate(0.36 -0.54) matrix(-12.777 33.513 -43.769 -4.558 1177.017 409.343)" points="0.831,0.075 0.493,-0.150 -0.617,0.292 -0.279,0.517" fill="#fdd104"/>
<polygon transform="translate(-1.2 1.8) matrix(-12.777 33.513 -43.769 -4.558 1177.017 409.343)" points="0.176,-0.436 -0.200,-0.644 -0.681,0.279 -0.311,0.498" fill="#dfac06"/>
<polygon transform="translate(0.90 -1.35) matrix(-12.777 33.513 -43.769 -4.558 1177.017 409.343)" points="0.176,-0.436 -0.200,-0.644 -0.681,0.279 -0.311,0.498" fill="#fff6cf" opacity="0.75"/>
<polygon transform="translate(0.36 -0.54) matrix(-12.777 33.513 -43.769 -4.558 1177.017 409.343)" points="0.176,-0.436 -0.200,-0.644 -0.681,0.279 -0.311,0.498" fill="#fdd104"/>
<polyline points="1127.7,414.5 1127.9,412.6 1128.2,410.8 1128.6,408.9 1129.0,407.0 1129.5,405.2 1130.1,403.3 1130.7,401.5 1131.4,399.6 1132.2,397.8 1133.1,395.9 1134.0,394.1 1134.9,392.3 1136.0,390.5 1137.1,388.8 1138.2,387.0 1139.4,385.3 1140.7,383.6 1142.0,382.0 1143.4,380.3 1144.8,378.7 1146.3,377.1 1147.8,375.6 1149.4,374.1 1151.0,372.6 1152.7,371.2 1154.4,369.9 1156.1,368.5 1157.9,367.2 1159.7,366.0 1161.5,364.8 1163.4,363.7 1165.3,362.6 1167.2,361.6 1169.2,360.6 1171.1,359.7 1173.1,358.8 1175.1,358.0 1177.1,357.3 1179.1,356.6 1181.2,356.0" fill="none" stroke="#fff7d0" stroke-width="1.1" stroke-linecap="round" opacity="0.9"/><ellipse cx="1055.40" cy="561.60" rx="48.70" ry="61.50" transform="rotate(1.8 1055.40 561.60)" fill="#e5b30b" />
<ellipse cx="1053.73" cy="560.60" rx="48.70" ry="61.50" transform="rotate(1.8 1053.73 560.60)" fill="#e5b30b" />
<ellipse cx="1052.07" cy="559.60" rx="48.70" ry="61.50" transform="rotate(1.8 1052.07 559.60)" fill="#e5b30b" />
<ellipse cx="1050.40" cy="558.60" rx="48.70" ry="61.50" transform="rotate(1.8 1050.40 558.60)" fill="#fed402" />
<ellipse cx="1049.37" cy="556.16" rx="38.60" ry="46.60" transform="rotate(1.8 1049.37 556.16)" fill="#ebbb08" />
<ellipse cx="1051.60" cy="557.50" rx="36.00" ry="44.00" transform="rotate(1.8 1051.60 557.50)" fill="#fee46a" />
<polygon transform="translate(1.6 1.6) matrix(35.520 6.303 -8.433 43.267 1051.158 560.306)" points="0.831,0.075 0.493,-0.150 -0.617,0.292 -0.279,0.517" fill="#dfac06"/>
<polygon transform="translate(-1.20 -1.20) matrix(35.520 6.303 -8.433 43.267 1051.158 560.306)" points="0.831,0.075 0.493,-0.150 -0.617,0.292 -0.279,0.517" fill="#fff6cf" opacity="0.75"/>
<polygon transform="translate(-0.48 -0.48) matrix(35.520 6.303 -8.433 43.267 1051.158 560.306)" points="0.831,0.075 0.493,-0.150 -0.617,0.292 -0.279,0.517" fill="#fdd104"/>
<polygon transform="translate(1.6 1.6) matrix(35.520 6.303 -8.433 43.267 1051.158 560.306)" points="0.176,-0.436 -0.200,-0.644 -0.681,0.279 -0.311,0.498" fill="#dfac06"/>
<polygon transform="translate(-1.20 -1.20) matrix(35.520 6.303 -8.433 43.267 1051.158 560.306)" points="0.176,-0.436 -0.200,-0.644 -0.681,0.279 -0.311,0.498" fill="#fff6cf" opacity="0.75"/>
<polygon transform="translate(-0.48 -0.48) matrix(35.520 6.303 -8.433 43.267 1051.158 560.306)" points="0.176,-0.436 -0.200,-0.644 -0.681,0.279 -0.311,0.498" fill="#fdd104"/>
<polyline points="1003.9,557.6 1004.0,555.5 1004.1,553.5 1004.3,551.5 1004.6,549.4 1004.9,547.4 1005.2,545.4 1005.6,543.4 1006.1,541.4 1006.6,539.5 1007.2,537.6 1007.8,535.7 1008.5,533.8 1009.3,531.9 1010.0,530.1 1010.9,528.4 1011.8,526.6 1012.7,524.9 1013.7,523.3 1014.7,521.7 1015.7,520.1 1016.8,518.6 1018.0,517.1 1019.2,515.7 1020.4,514.3 1021.7,513.0 1022.9,511.7 1024.3,510.5 1025.6,509.4 1027.0,508.3 1028.4,507.2 1029.9,506.3 1031.4,505.4 1032.9,504.5 1034.4,503.8 1035.9,503.1 1037.5,502.4 1039.0,501.9 1040.6,501.4 1042.2,501.0 1043.8,500.6" fill="none" stroke="#fff7d0" stroke-width="1.1" stroke-linecap="round" opacity="0.9"/>
<polyline points="1074.0,522.7 1075.7,524.4 1077.3,526.2 1078.8,528.2 1080.2,530.3 1081.5,532.4 1082.6,534.7 1083.7,537.1 1084.6,539.5 1085.5,542.0 1086.1,544.5 1086.7,547.2 1087.1,549.8 1087.4,552.5 1087.6,555.2 1087.6,557.9 1087.5,560.6 1087.2,563.3 1086.9,565.9 1086.3,568.6 1085.7,571.1 1084.9,573.7 1084.0,576.2 1083.0,578.6 1081.8,580.9 1080.6,583.2 1079.2,585.3 1077.7,587.3 1076.2,589.3 1074.5,591.1 1072.8,592.8 1070.9,594.3 1069.0,595.7 1067.1,597.0 1065.0,598.1 1063.0,599.1 1060.9,599.9 1058.7,600.5 1056.5,601.0 1054.3,601.3 1052.1,601.5" fill="none" stroke="#1f2d4a" stroke-width="1.1" stroke-linecap="round"/>
<polyline points="1098.8,565.1 1098.6,567.0 1098.3,568.9 1098.0,570.8 1097.6,572.8 1097.2,574.6 1096.8,576.5 1096.3,578.4 1095.8,580.2 1095.2,582.0 1094.5,583.8 1093.9,585.6 1093.1,587.3 1092.4,589.0 1091.6,590.7 1090.7,592.3 1089.8,593.9 1088.9,595.5 1088.0,597.1 1087.0,598.6 1085.9,600.0 1084.8,601.4 1083.7,602.8 1082.6,604.1 1081.4,605.4 1080.2,606.7 1079.0,607.9 1077.7,609.0 1076.4,610.1 1075.1,611.1 1073.8,612.1 1072.4,613.1 1071.0,613.9 1069.6,614.8 1068.2,615.5 1066.7,616.2 1065.3,616.9 1063.8,617.5 1062.3,618.0 1060.8,618.5 1059.3,618.9" fill="none" stroke="#1f2d4a" stroke-width="1.1" stroke-linecap="round"/>
</svg>
<div class="modal">
  <div class="title">12-month point debit forecast</div>
  <div class="hdiv"></div>
  <svg class="close" width="12" height="12" viewBox="0 0 12 12"><path d="M1 1L11 11M11 1L1 11" stroke="#5f7276" stroke-width="1.5"/></svg>
  <div class="tabs"><div class="tab1">Chart</div><div class="tab2">Table</div></div>
  <div class="legend">
    <div class="li" style="top:0"><i class="dot" style="background:#88d6dc"></i><span>Allowances</span></div>
    <div class="li" style="top:26.2px"><i class="dot" style="background:#fcd089"></i><span>Pulse Survey Incentives</span></div>
    <div class="li" style="top:52.4px"><i class="dot" style="background:#97d4a9"></i><span>Work Anniversaries</span></div>
    <div class="li" style="top:78.6px"><i class="dot" style="background:#f1a9e2"></i><span>Birthdays</span></div>
    <div class="li" style="top:104.8px"><i style="position:absolute;left:1px;top:5px;width:12px;height:3px;background:#136f76"></i><span>Bank Balance</span></div>
    <div class="li" style="top:131px"><i style="position:absolute;left:1px;top:5px;width:4px;height:2.5px;background:#1e7f86"></i><i style="position:absolute;left:9px;top:5px;width:4px;height:2.5px;background:#1e7f86"></i><span>Suggested Auto-Points</span></div>
  </div>
  <div class="sched">Scheduled Auto-Points</div>
  <div class="banner"><div class="btxt"><svg width="10" height="12" viewBox="0 0 10 12" style="position:absolute;left:-16px;top:1px"><path d="M5 1.2a3.6 3.6 0 0 0-2.2 6.5c.5.4.7.9.7 1.4h3c0-.5.2-1 .7-1.4A3.6 3.6 0 0 0 5 1.2z" fill="none" stroke="#2a7f86" stroke-width="1.3"/><path d="M3.6 10.4h2.8" stroke="#2a7f86" stroke-width="1.4" stroke-linecap="round"/></svg>Increase your auto-refill cap to 16,300pts to cover all forecasted months. <span class="apply">Apply Suggestion</span><svg width="8" height="10" viewBox="0 0 8 10" style="margin-left:6px;vertical-align:-1px"><path d="M1.8 1L5.6 5 1.8 9" fill="none" stroke="#1ea5b6" stroke-width="1.8"/></svg></div></div>
  <div class="card">
    <div class="ic"><svg width="16" height="17" viewBox="0 0 16 17" style="position:absolute;left:9.5px;top:8.5px"><rect x="0.5" y="2.5" width="15" height="14" rx="1.6" fill="#4f7478"/><rect x="3" y="0" width="2" height="4" rx="1" fill="#4f7478"/><rect x="11" y="0" width="2" height="4" rx="1" fill="#4f7478"/><g fill="#eef1f2"><rect x="2.6" y="7" width="2.4" height="2.2"/><rect x="6.8" y="7" width="2.4" height="2.2"/><rect x="11" y="7" width="2.4" height="2.2"/><rect x="2.6" y="11.3" width="2.4" height="2.2"/><rect x="6.8" y="11.3" width="2.4" height="2.2"/><rect x="11" y="11.3" width="2.4" height="2.2"/></g></svg></div>
    <div class="big" style="left:62px;top:18px">Monthly Refill</div>
    <div class="sub" style="left:62px;top:37px">Purchase Type</div>
    <div class="big" style="left:238px;top:18px">May 1, 2024</div>
    <div class="sub" style="left:238px;top:37px">Upcoming Purchase</div>
    <div class="big" style="left:463px;top:18px">6,000 pts</div>
    <div class="sub" style="left:463px;top:37px">Auto-Refill Cap</div>
    <div class="edit"><svg width="8" height="8" viewBox="0 0 8 8" style="position:absolute;left:11px;top:6.5px"><path d="M3.5 1.2H1.2v5.6h5.6V4.5" fill="none" stroke="#5a7075" stroke-width="1.1"/><path d="M3 5l.3-1.3L6.4.6l1 1L4.3 4.7z" fill="#5a7075"/></svg><span style="position:absolute;left:22px;top:6px">Edit</span></div>
  </div>
</div>
<svg class="layer" width="1200" height="630" viewBox="0 0 1200 630" style="pointer-events:none">
<line x1="285" y1="193.7" x2="775" y2="193.7" stroke="#f1f2f3" stroke-width="1" stroke-dasharray="3 3"/>
<line x1="285" y1="246.7" x2="775" y2="246.7" stroke="#f1f2f3" stroke-width="1" stroke-dasharray="3 3"/>
<line x1="285" y1="299.7" x2="775" y2="299.7" stroke="#f1f2f3" stroke-width="1" stroke-dasharray="3 3"/>
<line x1="284.0" y1="180" x2="284.0" y2="352" stroke="#f3f4f5" stroke-width="1" stroke-dasharray="3 3"/>
<line x1="327.9" y1="180" x2="327.9" y2="352" stroke="#f3f4f5" stroke-width="1" stroke-dasharray="3 3"/>
<line x1="371.9" y1="180" x2="371.9" y2="352" stroke="#f3f4f5" stroke-width="1" stroke-dasharray="3 3"/>
<line x1="415.8" y1="180" x2="415.8" y2="352" stroke="#f3f4f5" stroke-width="1" stroke-dasharray="3 3"/>
<line x1="459.8" y1="180" x2="459.8" y2="352" stroke="#f3f4f5" stroke-width="1" stroke-dasharray="3 3"/>
<line x1="503.7" y1="180" x2="503.7" y2="352" stroke="#f3f4f5" stroke-width="1" stroke-dasharray="3 3"/>
<line x1="547.6" y1="180" x2="547.6" y2="352" stroke="#f3f4f5" stroke-width="1" stroke-dasharray="3 3"/>
<line x1="591.6" y1="180" x2="591.6" y2="352" stroke="#f3f4f5" stroke-width="1" stroke-dasharray="3 3"/>
<line x1="635.5" y1="180" x2="635.5" y2="352" stroke="#f3f4f5" stroke-width="1" stroke-dasharray="3 3"/>
<line x1="679.5" y1="180" x2="679.5" y2="352" stroke="#f3f4f5" stroke-width="1" stroke-dasharray="3 3"/>
<line x1="723.4" y1="180" x2="723.4" y2="352" stroke="#f3f4f5" stroke-width="1" stroke-dasharray="3 3"/>
<line x1="767.3" y1="180" x2="767.3" y2="352" stroke="#f3f4f5" stroke-width="1" stroke-dasharray="3 3"/>
<rect x="275.5" y="330.8" width="17.0" height="21.9" fill="#fcd089"/>
<rect x="275.5" y="329.3" width="17.0" height="1.5" fill="#f1a9e2"/>
<rect x="319.4" y="231.6" width="17.0" height="121.1" fill="#88d6dc"/>
<rect x="319.4" y="212.8" width="17.0" height="18.8" fill="#fcd089"/>
<rect x="319.4" y="211.8" width="17.0" height="1.0" fill="#f1a9e2"/>
<rect x="363.4" y="231.6" width="17.0" height="121.1" fill="#88d6dc"/>
<rect x="363.4" y="213.4" width="17.0" height="18.2" fill="#fcd089"/>
<rect x="363.4" y="212.8" width="17.0" height="0.6" fill="#f1a9e2"/>
<rect x="407.3" y="231.6" width="17.0" height="121.1" fill="#88d6dc"/>
<rect x="407.3" y="212.8" width="17.0" height="18.8" fill="#fcd089"/>
<rect x="407.3" y="211.6" width="17.0" height="1.2" fill="#f1a9e2"/>
<rect x="451.3" y="231.6" width="17.0" height="121.1" fill="#88d6dc"/>
<rect x="451.3" y="212.8" width="17.0" height="18.8" fill="#fcd089"/>
<rect x="451.3" y="212.0" width="17.0" height="0.8" fill="#f1a9e2"/>
<rect x="495.2" y="231.6" width="17.0" height="121.1" fill="#88d6dc"/>
<rect x="495.2" y="213.6" width="17.0" height="18.0" fill="#fcd089"/>
<rect x="495.2" y="208.6" width="17.0" height="5.0" fill="#97d4a9"/>
<rect x="495.2" y="207.2" width="17.0" height="1.4" fill="#f1a9e2"/>
<rect x="539.1" y="231.6" width="17.0" height="121.1" fill="#88d6dc"/>
<rect x="539.1" y="213.2" width="17.0" height="18.4" fill="#fcd089"/>
<rect x="539.1" y="197.4" width="17.0" height="15.8" fill="#97d4a9"/>
<rect x="539.1" y="196.4" width="17.0" height="1.0" fill="#f1a9e2"/>
<rect x="583.1" y="231.6" width="17.0" height="121.1" fill="#88d6dc"/>
<rect x="583.1" y="213.2" width="17.0" height="18.4" fill="#fcd089"/>
<rect x="583.1" y="211.2" width="17.0" height="2.0" fill="#f1a9e2"/>
<rect x="627.0" y="231.6" width="17.0" height="121.1" fill="#88d6dc"/>
<rect x="627.0" y="212.6" width="17.0" height="19.0" fill="#fcd089"/>
<rect x="671.0" y="231.6" width="17.0" height="121.1" fill="#88d6dc"/>
<rect x="671.0" y="213.2" width="17.0" height="18.4" fill="#fcd089"/>
<rect x="671.0" y="202.6" width="17.0" height="10.6" fill="#97d4a9"/>
<rect x="671.0" y="201.8" width="17.0" height="0.8" fill="#f1a9e2"/>
<rect x="714.9" y="231.6" width="17.0" height="121.1" fill="#88d6dc"/>
<rect x="714.9" y="214.4" width="17.0" height="17.2" fill="#fcd089"/>
<rect x="758.8" y="231.6" width="17.0" height="121.1" fill="#88d6dc"/>
<rect x="758.8" y="212.6" width="17.0" height="19.0" fill="#fcd089"/>
<rect x="758.8" y="210.8" width="17.0" height="1.8" fill="#f1a9e2"/>
<line x1="284" y1="179.5" x2="284" y2="353.5" stroke="#aeb8bc" stroke-width="1.6"/>
<line x1="283.2" y1="353" x2="776" y2="353" stroke="#aeb8bc" stroke-width="1.6"/>
<line x1="279" y1="193.7" x2="284" y2="193.7" stroke="#a9b4b9" stroke-width="1"/>
<line x1="279" y1="246.7" x2="284" y2="246.7" stroke="#a9b4b9" stroke-width="1"/>
<line x1="279" y1="299.7" x2="284" y2="299.7" stroke="#a9b4b9" stroke-width="1"/>
<line x1="284.0" y1="353" x2="284.0" y2="357" stroke="#a9b4b9" stroke-width="1"/>
<line x1="327.9" y1="353" x2="327.9" y2="357" stroke="#a9b4b9" stroke-width="1"/>
<line x1="371.9" y1="353" x2="371.9" y2="357" stroke="#a9b4b9" stroke-width="1"/>
<line x1="415.8" y1="353" x2="415.8" y2="357" stroke="#a9b4b9" stroke-width="1"/>
<line x1="459.8" y1="353" x2="459.8" y2="357" stroke="#a9b4b9" stroke-width="1"/>
<line x1="503.7" y1="353" x2="503.7" y2="357" stroke="#a9b4b9" stroke-width="1"/>
<line x1="547.6" y1="353" x2="547.6" y2="357" stroke="#a9b4b9" stroke-width="1"/>
<line x1="591.6" y1="353" x2="591.6" y2="357" stroke="#a9b4b9" stroke-width="1"/>
<line x1="635.5" y1="353" x2="635.5" y2="357" stroke="#a9b4b9" stroke-width="1"/>
<line x1="679.5" y1="353" x2="679.5" y2="357" stroke="#a9b4b9" stroke-width="1"/>
<line x1="723.4" y1="353" x2="723.4" y2="357" stroke="#a9b4b9" stroke-width="1"/>
<line x1="767.3" y1="353" x2="767.3" y2="357" stroke="#a9b4b9" stroke-width="1"/>
<polyline points="284,341.2 327.9,289.5 767.3,289.5" fill="none" stroke="#126b70" stroke-width="1.5"/>
<polyline points="284,341.2 327.9,180.6 767.3,180.6" fill="none" stroke="#2a7d76" stroke-width="1.4" stroke-dasharray="3.8 3"/>
<text x="275.5" y="197.0" text-anchor="end" class="ax">15K</text>
<text x="275.5" y="250.0" text-anchor="end" class="ax">10K</text>
<text x="275.5" y="303.0" text-anchor="end" class="ax">5K</text>
<text x="284.0" y="369" text-anchor="middle" class="ax">April</text>
<text x="327.9" y="369" text-anchor="middle" class="ax">May</text>
<text x="371.9" y="369" text-anchor="middle" class="ax">June</text>
<text x="415.8" y="369" text-anchor="middle" class="ax">July</text>
<text x="459.8" y="369" text-anchor="middle" class="ax">August</text>
<text x="503.7" y="369" text-anchor="middle" class="ax">September</text>
<text x="547.6" y="369" text-anchor="middle" class="ax">October</text>
<text x="591.6" y="369" text-anchor="middle" class="ax">November</text>
<text x="635.5" y="369" text-anchor="middle" class="ax">December</text>
<text x="679.5" y="369" text-anchor="middle" class="ax">January</text>
<text x="723.4" y="369" text-anchor="middle" class="ax">February</text>
<text x="767.3" y="369" text-anchor="middle" class="ax">March</text>
</svg>
<svg class="layer" width="1200" height="630" viewBox="0 0 1200 630">
<defs><filter id="sh2" x="-50%" y="-50%" width="200%" height="200%"><feGaussianBlur stdDeviation="14"/></filter></defs>
<ellipse cx="794.80" cy="27.90" rx="72.56" ry="86.04" transform="rotate(14.7 794.80 27.90)" fill="#6b5a3a" opacity="0.16" filter="url(#sh2)"/><ellipse cx="205.60" cy="281.00" rx="58.30" ry="46.56" transform="rotate(-50.6 205.60 281.00)" fill="#6b5a3a" opacity="0.22" filter="url(#sh2)"/><ellipse cx="1005.60" cy="370.00" rx="52.28" ry="57.42" transform="rotate(-18 1005.60 370.00)" fill="#6b5a3a" opacity="0.16" filter="url(#sh2)"/>
<ellipse cx="783.80" cy="8.90" rx="74.80" ry="88.70" transform="rotate(14.7 783.80 8.90)" fill="#e5b30b" />
<ellipse cx="785.42" cy="9.28" rx="74.80" ry="88.70" transform="rotate(14.7 785.42 9.28)" fill="#e5b30b" />
<ellipse cx="787.05" cy="9.65" rx="74.80" ry="88.70" transform="rotate(14.7 787.05 9.65)" fill="#e5b30b" />
<ellipse cx="788.67" cy="10.03" rx="74.80" ry="88.70" transform="rotate(14.7 788.67 10.03)" fill="#e5b30b" />
<ellipse cx="790.30" cy="10.40" rx="74.80" ry="88.70" transform="rotate(14.7 790.30 10.40)" fill="#e5b30b" />
<ellipse cx="791.92" cy="10.78" rx="74.80" ry="88.70" transform="rotate(14.7 791.92 10.78)" fill="#e5b30b" />
<ellipse cx="793.55" cy="11.15" rx="74.80" ry="88.70" transform="rotate(14.7 793.55 11.15)" fill="#e5b30b" />
<ellipse cx="795.17" cy="11.53" rx="74.80" ry="88.70" transform="rotate(14.7 795.17 11.53)" fill="#e5b30b" />
<ellipse cx="796.80" cy="11.90" rx="74.80" ry="88.70" transform="rotate(14.7 796.80 11.90)" fill="#fed402" />
<ellipse cx="798.55" cy="12.30" rx="59.07" ry="69.57" transform="rotate(14.7 798.55 12.30)" fill="#ebbb08" />
<ellipse cx="796.02" cy="11.72" rx="56.47" ry="66.97" transform="rotate(14.7 796.02 11.72)" fill="#fee46a" />
<polygon transform="translate(-2 1.6) matrix(-50.085 22.705 -16.403 -66.274 792.341 10.984)" points="0.831,0.075 0.493,-0.150 -0.617,0.292 -0.279,0.517" fill="#dfac06"/>
<polygon transform="translate(1.50 -1.20) matrix(-50.085 22.705 -16.403 -66.274 792.341 10.984)" points="0.831,0.075 0.493,-0.150 -0.617,0.292 -0.279,0.517" fill="#fff6cf" opacity="0.75"/>
<polygon transform="translate(0.60 -0.48) matrix(-50.085 22.705 -16.403 -66.274 792.341 10.984)" points="0.831,0.075 0.493,-0.150 -0.617,0.292 -0.279,0.517" fill="#fdd104"/>
<polygon transform="translate(-2 1.6) matrix(-50.085 22.705 -16.403 -66.274 792.341 10.984)" points="0.176,-0.436 -0.200,-0.644 -0.681,0.279 -0.311,0.498" fill="#dfac06"/>
<polygon transform="translate(1.50 -1.20) matrix(-50.085 22.705 -16.403 -66.274 792.341 10.984)" points="0.176,-0.436 -0.200,-0.644 -0.681,0.279 -0.311,0.498" fill="#fff6cf" opacity="0.75"/>
<polygon transform="translate(0.60 -0.48) matrix(-50.085 22.705 -16.403 -66.274 792.341 10.984)" points="0.176,-0.436 -0.200,-0.644 -0.681,0.279 -0.311,0.498" fill="#fdd104"/>
<polyline points="724.7,12.2 724.9,9.2 725.3,6.3 725.7,3.4 726.2,0.5 726.8,-2.4 727.5,-5.3 728.2,-8.1 729.1,-11.0 730.0,-13.8 731.0,-16.6 732.1,-19.3 733.3,-22.0 734.5,-24.7 735.9,-27.3 737.3,-29.8 738.7,-32.3 740.3,-34.8 741.9,-37.2 743.6,-39.6 745.3,-41.8 747.1,-44.1 749.0,-46.2 750.9,-48.3 752.9,-50.3 754.9,-52.2 757.0,-54.1 759.1,-55.8 761.3,-57.5 763.5,-59.1 765.8,-60.6 768.1,-62.1 770.4,-63.4 772.8,-64.7 775.2,-65.8 777.6,-66.9 780.1,-67.8 782.5,-68.7 785.0,-69.5 787.5,-70.1 790.0,-70.7" fill="none" stroke="#fff7d0" stroke-width="1.1" stroke-linecap="round" opacity="0.9"/>
<polyline points="740.8,0.0 740.2,2.5 739.8,5.0 739.4,7.5 739.2,10.0 739.0,12.5 738.8,15.0 738.8,17.5 738.9,20.0 739.0,22.5 739.2,24.9 739.5,27.4 739.9,29.8 740.3,32.2 740.8,34.6 741.5,36.9 742.1,39.2 742.9,41.5 743.8,43.7 744.7,45.8 745.7,48.0 746.7,50.0 747.9,52.1 749.1,54.0 750.3,55.9 751.7,57.8 753.0,59.5 754.5,61.2 756.0,62.9 757.6,64.4 759.2,65.9 760.9,67.3 762.6,68.6 764.4,69.9 766.2,71.1 768.1,72.1 770.0,73.1 771.9,74.0 773.9,74.8 775.9,75.6 778.0,76.2" fill="none" stroke="#1f2d4a" stroke-width="1.1" stroke-linecap="round"/>
<polyline points="722.8,0.1 722.3,3.0 721.9,5.9 721.6,8.9 721.3,11.8 721.1,14.8 721.0,17.7 721.0,20.6 721.1,23.6 721.3,26.5 721.5,29.4 721.9,32.3 722.3,35.1 722.8,37.9 723.4,40.7 724.1,43.5 724.8,46.2 725.6,48.9 726.6,51.6 727.5,54.2 728.6,56.7 729.8,59.2 731.0,61.7 732.3,64.1 733.6,66.4 735.1,68.7 736.6,70.9 738.2,73.1 739.8,75.1 741.5,77.1 743.3,79.1 745.1,80.9 747.0,82.7 748.9,84.4 750.9,86.0 753.0,87.6 755.1,89.0 757.2,90.4 759.4,91.7 761.6,92.9 763.9,94.0" fill="none" stroke="#1f2d4a" stroke-width="1.1" stroke-linecap="round"/><ellipse cx="194.60" cy="243.00" rx="60.10" ry="48.00" transform="rotate(-50.6 194.60 243.00)" fill="#e5b30b" />
<ellipse cx="192.85" cy="242.50" rx="60.10" ry="48.00" transform="rotate(-50.6 192.85 242.50)" fill="#e5b30b" />
<ellipse cx="191.10" cy="242.00" rx="60.10" ry="48.00" transform="rotate(-50.6 191.10 242.00)" fill="#e5b30b" />
<ellipse cx="189.35" cy="241.50" rx="60.10" ry="48.00" transform="rotate(-50.6 189.35 241.50)" fill="#e5b30b" />
<ellipse cx="187.60" cy="241.00" rx="60.10" ry="48.00" transform="rotate(-50.6 187.60 241.00)" fill="#fed402" />
<ellipse cx="185.87" cy="240.51" rx="47.98" ry="38.84" transform="rotate(-50.6 185.87 240.51)" fill="#ebbb08" />
<ellipse cx="188.37" cy="241.22" rx="45.38" ry="36.24" transform="rotate(-50.6 188.37 241.22)" fill="#fee46a" />
<polygon transform="translate(1.6 1.6) matrix(-12.628 31.166 -42.962 -4.987 187.249 242.081)" points="0.831,0.075 0.493,-0.150 -0.617,0.292 -0.279,0.517" fill="#dfac06"/>
<polygon transform="translate(-1.20 -1.20) matrix(-12.628 31.166 -42.962 -4.987 187.249 242.081)" points="0.831,0.075 0.493,-0.150 -0.617,0.292 -0.279,0.517" fill="#fff6cf" opacity="0.75"/>
<polygon transform="translate(-0.48 -0.48) matrix(-12.628 31.166 -42.962 -4.987 187.249 242.081)" points="0.831,0.075 0.493,-0.150 -0.617,0.292 -0.279,0.517" fill="#fdd104"/>
<polygon transform="translate(1.6 1.6) matrix(-12.628 31.166 -42.962 -4.987 187.249 242.081)" points="0.176,-0.436 -0.200,-0.644 -0.681,0.279 -0.311,0.498" fill="#dfac06"/>
<polygon transform="translate(-1.20 -1.20) matrix(-12.628 31.166 -42.962 -4.987 187.249 242.081)" points="0.176,-0.436 -0.200,-0.644 -0.681,0.279 -0.311,0.498" fill="#fff6cf" opacity="0.75"/>
<polygon transform="translate(-0.48 -0.48) matrix(-12.628 31.166 -42.962 -4.987 187.249 242.081)" points="0.176,-0.436 -0.200,-0.644 -0.681,0.279 -0.311,0.498" fill="#fdd104"/>
<polyline points="136.8,250.4 136.9,248.5 137.1,246.7 137.3,244.9 137.6,243.0 138.0,241.2 138.4,239.3 138.8,237.5 139.4,235.6 140.0,233.8 140.6,231.9 141.3,230.1 142.1,228.3 142.9,226.5 143.8,224.8 144.7,223.0 145.7,221.3 146.7,219.6 147.8,217.9 148.9,216.2 150.1,214.6 151.3,213.0 152.5,211.5 153.8,209.9 155.2,208.5 156.6,207.0 158.0,205.6 159.5,204.3 161.0,203.0 162.5,201.7 164.0,200.5 165.6,199.3 167.2,198.2 168.9,197.1 170.5,196.1 172.2,195.1 173.9,194.2 175.6,193.4 177.4,192.6 179.1,191.9 180.9,191.2" fill="none" stroke="#fff7d0" stroke-width="1.1" stroke-linecap="round" opacity="0.9"/><ellipse cx="1016.60" cy="349.00" rx="53.90" ry="59.20" transform="rotate(-18 1016.60 349.00)" fill="#e5b30b" />
<ellipse cx="1015.10" cy="349.83" rx="53.90" ry="59.20" transform="rotate(-18 1015.10 349.83)" fill="#e5b30b" />
<ellipse cx="1013.60" cy="350.67" rx="53.90" ry="59.20" transform="rotate(-18 1013.60 350.67)" fill="#e5b30b" />
<ellipse cx="1012.10" cy="351.50" rx="53.90" ry="59.20" transform="rotate(-18 1012.10 351.50)" fill="#e5b30b" />
<ellipse cx="1010.60" cy="352.33" rx="53.90" ry="59.20" transform="rotate(-18 1010.60 352.33)" fill="#e5b30b" />
<ellipse cx="1009.10" cy="353.17" rx="53.90" ry="59.20" transform="rotate(-18 1009.10 353.17)" fill="#e5b30b" />
<ellipse cx="1007.60" cy="354.00" rx="53.90" ry="59.20" transform="rotate(-18 1007.60 354.00)" fill="#fed402" />
<ellipse cx="1007.13" cy="353.56" rx="44.10" ry="46.10" transform="rotate(-18 1007.13 353.56)" fill="#ebbb08" />
<ellipse cx="1009.40" cy="352.30" rx="41.50" ry="43.50" transform="rotate(-18 1009.40 352.30)" fill="#fee46a" />
<polygon transform="translate(1.2 1.8) matrix(-17.715 37.037 -40.119 -28.384 1007.523 355.417)" points="0.831,0.075 0.493,-0.150 -0.617,0.292 -0.279,0.517" fill="#dfac06"/>
<polygon transform="translate(-0.90 -1.35) matrix(-17.715 37.037 -40.119 -28.384 1007.523 355.417)" points="0.831,0.075 0.493,-0.150 -0.617,0.292 -0.279,0.517" fill="#fff6cf" opacity="0.75"/>
<polygon transform="translate(-0.36 -0.54) matrix(-17.715 37.037 -40.119 -28.384 1007.523 355.417)" points="0.831,0.075 0.493,-0.150 -0.617,0.292 -0.279,0.517" fill="#fdd104"/>
<polygon transform="translate(1.2 1.8) matrix(-17.715 37.037 -40.119 -28.384 1007.523 355.417)" points="0.176,-0.436 -0.200,-0.644 -0.681,0.279 -0.311,0.498" fill="#dfac06"/>
<polygon transform="translate(-0.90 -1.35) matrix(-17.715 37.037 -40.119 -28.384 1007.523 355.417)" points="0.176,-0.436 -0.200,-0.644 -0.681,0.279 -0.311,0.498" fill="#fff6cf" opacity="0.75"/>
<polygon transform="translate(-0.36 -0.54) matrix(-17.715 37.037 -40.119 -28.384 1007.523 355.417)" points="0.176,-0.436 -0.200,-0.644 -0.681,0.279 -0.311,0.498" fill="#fdd104"/>
<polyline points="955.6,350.8 955.7,348.9 955.8,346.9 955.9,345.0 956.1,343.0 956.4,341.1 956.8,339.2 957.2,337.4 957.7,335.5 958.2,333.7 958.8,331.9 959.4,330.1 960.2,328.3 960.9,326.6 961.7,324.9 962.6,323.2 963.6,321.6 964.6,320.1 965.6,318.5 966.7,317.0 967.8,315.6 969.0,314.2 970.3,312.8 971.6,311.5 972.9,310.3 974.3,309.1 975.7,307.9 977.1,306.8 978.6,305.8 980.1,304.8 981.7,303.9 983.3,303.1 984.9,302.3 986.5,301.6 988.2,300.9 989.9,300.3 991.6,299.8 993.4,299.3 995.1,298.9 996.9,298.6 998.7,298.3" fill="none" stroke="#fff7d0" stroke-width="1.1" stroke-linecap="round" opacity="0.9"/>
<polyline points="1005.1,309.1 1007.8,309.0 1010.6,309.1 1013.3,309.3 1016.0,309.7 1018.7,310.4 1021.3,311.1 1023.9,312.1 1026.4,313.3 1028.9,314.6 1031.2,316.0 1033.5,317.7 1035.7,319.4 1037.7,321.3 1039.7,323.4 1041.5,325.6 1043.1,327.8 1044.7,330.2 1046.1,332.7 1047.3,335.3 1048.3,337.9 1049.2,340.6 1049.9,343.4 1050.5,346.1 1050.9,349.0 1051.1,351.8 1051.1,354.6 1050.9,357.4 1050.6,360.2 1050.1,363.0 1049.4,365.7 1048.5,368.4 1047.5,371.0 1046.3,373.5 1045.0,375.9 1043.5,378.2 1041.8,380.4 1040.1,382.5 1038.1,384.5 1036.1,386.3 1034.0,388.0" fill="none" stroke="#1f2d4a" stroke-width="1.1" stroke-linecap="round"/>
<polyline points="1055.6,329.1 1056.3,330.8 1057.0,332.4 1057.7,334.0 1058.3,335.7 1058.9,337.4 1059.4,339.1 1059.9,340.8 1060.3,342.6 1060.7,344.3 1061.0,346.1 1061.3,347.8 1061.6,349.6 1061.8,351.4 1061.9,353.1 1062.0,354.9 1062.0,356.7 1062.0,358.4 1062.0,360.2 1061.9,362.0 1061.7,363.7 1061.5,365.4 1061.2,367.2 1060.9,368.9 1060.6,370.6 1060.2,372.3 1059.7,374.0 1059.2,375.6 1058.7,377.3 1058.1,378.9 1057.5,380.5 1056.8,382.0 1056.1,383.6 1055.3,385.1 1054.5,386.6 1053.6,388.0 1052.7,389.5 1051.8,390.9 1050.8,392.2 1049.8,393.6 1048.7,394.8" fill="none" stroke="#1f2d4a" stroke-width="1.1" stroke-linecap="round"/>
<path d="M999 299.7Q1000.26 305.44 1006 306.7Q1000.26 307.96 999 313.7Q997.74 307.96 992 306.7Q997.74 305.44 999 299.7Z" fill="#fff"/>
</svg>
</body></html>
